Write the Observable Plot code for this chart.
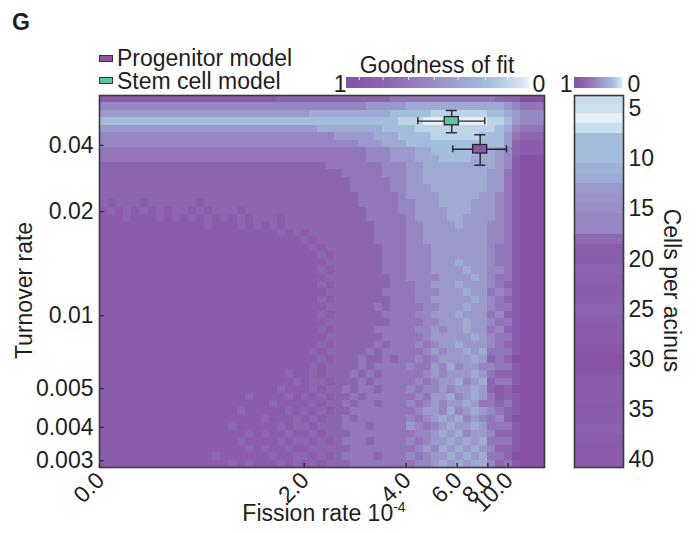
<!DOCTYPE html>
<html>
<head>
<meta charset="utf-8">
<script src="https://cdn.jsdelivr.net/npm/d3@7"></script>
<script src="https://cdn.jsdelivr.net/npm/@observablehq/plot@0.6"></script>
<style>
  html, body { margin: 0; padding: 0; background: #fff; }
  #chart { position: relative; width: 696px; height: 533px; overflow: hidden;
    font-family: "Liberation Sans", Arial, Helvetica, sans-serif; color: #1e1e1e; }
  #chart > svg { position: absolute; left: 0; top: 0; }
  .lbl { position: absolute; white-space: nowrap; line-height: 20px; font-size: 23px; }
  .sw { position: absolute; width: 12px; height: 5px; border: 1px solid #333; }
  sup { font-size: 14px; vertical-align: 9px; line-height: 0; }
</style>
</head>
<body>
<div id="chart"></div>
<script>
// ---------------- data ----------------
const panelLetter = "G";
const seriesNames = ["Progenitor model", "Stem cell model"];
const seriesColors = ["#8b55a9", "#5ec69f"];
const colorbarTitle = "Goodness of fit";
const xTitle = "Fission rate 10";
const xTitleExp = "-4";
const yTitle = "Turnover rate";
const sideTitle = "Cells per acinus";

// fission-rate ticks and the heat-map column at which each one sits
const xTickLabels = ["0.0", "2.0", "4.0", "6.0", "8.0", "10.0"];
const xTickCol = [0, 25.3, 37.9, 44.2, 48.0, 50.5];
// turnover-rate ticks and the heat-map row at which each one sits
const yTickLabels = ["0.04", "0.02", "0.01", "0.005", "0.004", "0.003"];
const yTickRow = [6.7, 15.6, 29.6, 39.4, 44.6, 49.1];

// goodness-of-fit grid: one string per row (top to bottom), one digit per column
// (spaces only group the 55 columns), digit = goodness * 9  (9 = fit 1 purple, 0 = fit 0 white)
const fitRows = [
  "88888 88888 88888 88888 88777 77777 77777766 666666 666667 77999",
  "55555 55555 55555 55555 55555 55555 55544444 333333 333333 45666",
  "44444 44444 44444 44444 44444 43333 33333322 222111 111122 34555",
  "22222 22222 22222 22222 22222 22222 22222221 110000 000011 24555",
  "44444 44444 44444 44444 44444 44333 33333222 211111 111112 35666",
  "55555 55555 55555 55555 55555 55554 44443332 222111 111222 46777",
  "55555 55555 55555 55555 55555 55555 55444333 222222 222222 47888",
  "66666 66666 66666 66666 66666 66666 66655544 433222 222334 57888",
  "66666 66666 66666 66666 66666 66666 66655544 433322 223334 58999",
  "77777 77777 77777 77777 77777 77766 66666555 443333 333334 58999",
  "77777 77777 77777 77777 77777 77777 66666555 443333 333344 68999",
  "77777 77777 77777 77777 77777 77777 76666655 443333 333344 68999",
  "77777 77777 77777 77777 77777 77777 76666655 444333 333344 68999",
  "77777 77777 77777 77777 77777 77777 77666665 444433 333445 68999",
  "78777 87777 77877 77777 77777 77777 77666665 544433 334445 68999",
  "87878 78787 78787 77877 77777 77777 77766665 544443 334445 68999",
  "88878 88787 87878 78787 77877 77777 77766666 544443 344445 68999",
  "88888 88888 88878 88787 87877 77777 77776666 554444 344455 68999",
  "88888 88888 88888 88888 88787 87777 77776666 554444 444455 68999",
  "88888 88888 88888 88888 88888 78777 77776666 554444 444455 68999",
  "88888 88888 88888 88888 88888 87877 77777666 555444 444456 68999",
  "88888 88888 88888 88888 88888 88787 77777666 555444 444456 68999",
  "88888 88888 88888 88888 88888 88877 77777666 555444 344456 68999",
  "88888 88888 88888 88888 88888 88787 77777666 555444 434455 68999",
  "88888 88888 88888 88888 88888 88877 77777766 555544 443456 68999",
  "88888 88888 88888 88888 88888 88787 77777766 655444 344456 78999",
  "88888 88888 88888 88888 88888 88877 77777666 655544 434465 68999",
  "88888 88888 88888 88888 88888 88787 77777766 655444 443456 78999",
  "88888 88888 88888 88888 88888 88877 77776766 665544 434456 68999",
  "88888 88888 88888 88888 88888 88787 77777666 655444 344465 78999",
  "88888 88888 88888 88888 88888 88877 77777766 665544 434456 68999",
  "88888 88888 88888 88888 88888 88787 77776666 655454 434465 78999",
  "88888 88888 88888 88888 88888 88877 77777666 665444 443456 68999",
  "88888 88888 88888 88888 88888 88787 77776766 656544 344456 78999",
  "88888 88888 88888 88888 88888 87877 77767666 665454 434366 68999",
  "88888 88888 88888 88888 88888 88787 77677676 656544 443476 79999",
  "88888 88888 88888 88888 88888 87877 77676666 566453 544556 68999",
  "88888 88888 88888 88888 88878 87877 76767666 665454 443467 78999",
  "88888 88888 88888 88888 88887 87787 77676666 656544 354376 68999",
  "88888 88888 88888 88888 88788 87877 67667666 565545 443478 79999",
  "88888 88888 88888 88878 88878 78787 76766666 656443 543468 78999",
  "88888 88888 88888 88888 87888 87877 67667666 565454 434667 68999",
  "88888 88888 88888 88788 88878 78787 76666666 654453 543456 78999",
  "88888 88888 88888 88888 78887 87877 67666666 565434 354565 79999",
  "88888 88888 88888 87888 88787 78777 66676666 456543 443466 68999",
  "88888 88888 88888 88878 78878 87877 76666666 655434 354457 78999",
  "88888 88888 88888 88788 88787 78787 66676666 565443 434366 68999",
  "88888 88888 88888 88878 78878 87777 76666666 654534 343457 78999",
  "88888 88888 88887 88888 87887 78787 66667666 565443 434366 79999",
  "88888 88888 88888 87878 88787 87877 76666666 655434 343357 68999"
];
const nCols = 55, nRows = 50;

// model estimates with error bars, in heat-map column / row units
const modelX   = [47.05, 43.54];
const modelXlo = [43.67, 39.34];
const modelXhi = [50.30, 47.62];
const modelY   = [7.23, 3.45];
const modelYlo = [5.28, 2.02];
const modelYhi = [9.37, 5.01];

// side bar: goodness of fit per number of cells per acinus
const cellCounts = [4,5,6,7,8,9,10,11,12,13,14,15,16,17,18,19,20,21,22,23,24,25,26,27,28,29,30,31,32,33,34,35,36,37,38,39,40,41];
const cellFit    = [0.09,0.07,0.01,0.08,0.22,0.22,0.22,0.30,0.33,0.45,0.47,0.50,0.55,0.55,0.75,0.87,0.88,0.80,0.84,0.88,0.86,0.80,0.86,0.90,0.90,0.92,0.97,0.97,0.90,0.90,0.88,0.90,0.90,0.85,0.88,0.90,0.90,0.90];
const cellTicks  = [5,10,15,20,25,30,35,40];

// colour ramp of the goodness-of-fit scale, fit 0 -> 1
const fitPalette = ["#e7eff6","#bdd4e8","#a3bddc","#9eaad4","#9b99cb","#9686c2","#9276b9","#8d66b0","#8a5cab","#8651a4"];

// ---------------- build ----------------
const FONT = '"Liberation Sans", Arial, Helvetica, sans-serif';
const fitScale = {type: "linear", domain: fitPalette.map((_, i) => i / 9), range: fitPalette, interpolate: "rgb"};
const baseStyle = {fontFamily: FONT, fontSize: "23px", color: "#1e1e1e", background: "transparent"};

const cells = [];
fitRows.forEach((row, r) => {
  [...row.replace(/ /g, "")].forEach((ch, c) => cells.push({c, r, g: +ch / 9}));
});
const models = modelX.map((x, i) => ({x, xlo: modelXlo[i], xhi: modelXhi[i], y: modelY[i], ylo: modelYlo[i], yhi: modelYhi[i]}));
const ink = "#262626";

const mainPlot = Plot.plot({
  width: 696, height: 533,
  marginLeft: 99, marginRight: 152, marginTop: 95, marginBottom: 66,
  style: baseStyle,
  x: {domain: [0, nCols], axis: null},
  y: {domain: [0, nRows], reverse: true, axis: null},
  color: fitScale,
  marks: [
    Plot.rect(cells, {x1: "c", x2: d => d.c + 1, y1: "r", y2: d => d.r + 1, fill: "g", shapeRendering: "crispEdges"}),
    Plot.ruleX(xTickCol, {x: d => d, y1: nRows, y2: nRows - 0.55, stroke: ink, strokeWidth: 1.3}),
    Plot.ruleY(yTickRow, {y: d => d, x1: 0, x2: 0.55, stroke: ink, strokeWidth: 1.3}),
    // horizontal error bars + caps
    Plot.ruleY(models, {y: "y", x1: "xlo", x2: "xhi", stroke: ink, strokeWidth: 1.4}),
    Plot.ruleX(models, {x: "xlo", y1: d => d.y - 0.47, y2: d => d.y + 0.47, stroke: ink, strokeWidth: 1.4}),
    Plot.ruleX(models, {x: "xhi", y1: d => d.y - 0.47, y2: d => d.y + 0.47, stroke: ink, strokeWidth: 1.4}),
    // vertical error bars + caps
    Plot.ruleX(models, {x: "x", y1: "ylo", y2: "yhi", stroke: ink, strokeWidth: 1.4}),
    Plot.ruleY(models, {y: "ylo", x1: d => d.x - 0.68, x2: d => d.x + 0.68, stroke: ink, strokeWidth: 1.4}),
    Plot.ruleY(models, {y: "yhi", x1: d => d.x - 0.68, x2: d => d.x + 0.68, stroke: ink, strokeWidth: 1.4}),
    // model boxes
    Plot.rect([models[0]], {x1: d => d.x - 0.87, x2: d => d.x + 0.87, y1: d => d.y - 0.57, y2: d => d.y + 0.57, fill: seriesColors[0], stroke: ink, strokeWidth: 1.3}),
    Plot.rect([models[1]], {x1: d => d.x - 0.87, x2: d => d.x + 0.87, y1: d => d.y - 0.55, y2: d => d.y + 0.55, fill: seriesColors[1], stroke: ink, strokeWidth: 1.3}),
    Plot.frame({stroke: "#3a3a3a", strokeWidth: 1.6}),
    // axes labels
    Plot.text(xTickCol, {x: d => d, y: nRows, text: (d, i) => xTickLabels[i], rotate: -45, textAnchor: "end", dx: 1, dy: 9}),
    Plot.text(yTickRow, {x: 0, y: d => d, text: (d, i) => yTickLabels[i], textAnchor: "end", dx: -6}),
    Plot.text([yTitle], {frameAnchor: "left", text: d => d, textAnchor: "middle", rotate: -90, dx: -75, dy: 9})
  ]
});

const sidePlot = Plot.plot({
  width: 696, height: 533,
  marginLeft: 574, marginRight: 73, marginTop: 95, marginBottom: 66,
  style: baseStyle,
  x: {domain: [0, 1], axis: null},
  y: {domain: [3.7, 40.75], reverse: true, axis: null},
  color: fitScale,
  marks: [
    Plot.rect(cellCounts, {y1: d => d - 0.5, y2: d => d + 0.5, fill: (d, i) => cellFit[i], clip: true, shapeRendering: "crispEdges"}),
    Plot.frame({stroke: "#3a3a3a", strokeWidth: 1.6}),
    Plot.text(cellTicks, {x: 1, y: d => d, text: d => String(d), textAnchor: "start", dx: 5}),
    Plot.text([sideTitle], {frameAnchor: "right", text: d => d, textAnchor: "middle", rotate: 90, dx: 48, dy: 9})
  ]
});

const rampSteps = d3.range(0, 1, 0.005);
function rampPlot(left, right, dxOne, dxZero, ticks) {
  return Plot.plot({
    width: 696, height: 533,
    marginLeft: left, marginRight: 696 - right, marginTop: 77, marginBottom: 533 - 88,
    style: baseStyle,
    x: {domain: [1, 0], axis: null},
    y: {domain: [0, 1], axis: null},
    color: fitScale,
    marks: [
      Plot.rect(rampSteps, {x1: d => d, x2: d => Math.min(1, d + 0.008), fill: d => d + 0.0025, shapeRendering: "crispEdges"}),
      Plot.ruleX(ticks, {x: d => d, y1: 0.72, y2: 1, stroke: "#ffffff", strokeOpacity: 0.85}),
      Plot.text(["1"], {x: 1, text: d => d, textAnchor: "end", dx: dxOne, dy: 2}),
      Plot.text(["0"], {x: 0, text: d => d, textAnchor: "start", dx: dxZero, dy: 2})
    ]
  });
}
const rampTicks = [0.93, 0.8, 0.66, 0.52, 0.39, 0.24, 0.12];

const chart = document.getElementById("chart");
chart.append(mainPlot, sidePlot, rampPlot(346, 529, 0, 3, rampTicks), rampPlot(574, 623, -2, 4, []));

function label(html, css) {
  const d = document.createElement("div");
  d.className = "lbl";
  d.innerHTML = html;
  Object.assign(d.style, css);
  chart.append(d);
}
function swatch(color, css) {
  const d = document.createElement("div");
  d.className = "sw";
  d.style.background = color;
  Object.assign(d.style, css);
  chart.append(d);
}
label(panelLetter, {left: "12px", top: "12px", fontWeight: "bold"});
swatch(seriesColors[0], {left: "99px", top: "55px"});
swatch(seriesColors[1], {left: "99px", top: "77px"});
label(seriesNames[0], {left: "117px", top: "48px"});
label(seriesNames[1], {left: "117px", top: "71px"});
label(colorbarTitle, {left: "337px", width: "200px", textAlign: "center", top: "55px"});
label(`${xTitle}<sup>${xTitleExp}</sup>`, {left: "224px", width: "200px", textAlign: "center", top: "503px"});
</script>
</body>
</html>
